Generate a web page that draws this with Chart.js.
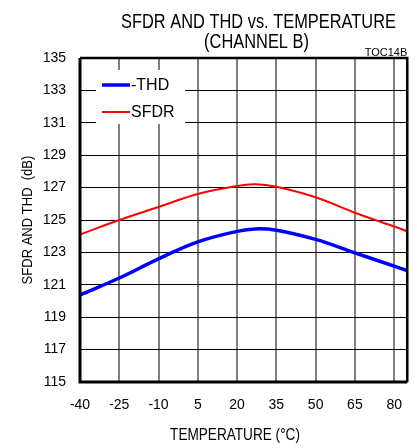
<!DOCTYPE html>
<html><head><meta charset="utf-8">
<script src="https://cdn.jsdelivr.net/npm/chart.js@4/dist/chart.umd.min.js"></script>
<style>html,body{margin:0;padding:0;background:#fff;}canvas{display:block;}</style>
</head><body>
<canvas id="c" width="417" height="448"></canvas>
<script>
const temperatures = [-40, -25, -10, 5, 20, 27, 35, 50, 65, 80, 85];
const thd  = [120.37, 121.42, 122.6, 123.65, 124.3, 124.45, 124.37, 123.8, 122.97, 122.15, 121.87];
const sfdr = [124.1, 125.0, 125.8, 126.6, 127.1, 127.2, 127.05, 126.4, 125.45, 124.6, 124.3];
const xTickValues = [-40, -25, -10, 5, 20, 35, 50, 65, 80];
const yTickValues = [115, 117, 119, 121, 123, 125, 127, 129, 131, 133, 135];
const seriesNames = ['-THD', 'SFDR'];
const seriesColors = ['#0000ff', '#ff0000'];
const titleLines = ['SFDR AND THD vs. TEMPERATURE', '(CHANNEL B)'];
const xTitle = 'TEMPERATURE (\u00B0C)';
const yTitle = 'SFDR AND THD  (dB)';
const tag = 'TOC14B';

const REG = '"Liberation Sans", Arial, sans-serif';

const toPts = (ys) => temperatures.map((t, i) => ({x: t, y: ys[i]}));

function narrowText(ctx, text, x, y, size, squeeze, rot) {
  ctx.save();
  ctx.translate(x, y);
  if (rot) ctx.rotate(rot);
  ctx.scale(squeeze, 1);
  ctx.font = size + 'px ' + REG;
  ctx.textAlign = 'center';
  ctx.textBaseline = 'alphabetic';
  ctx.fillStyle = '#000';
  ctx.fillText(text, 0, 0);
  ctx.restore();
}

const decor = {
  id: 'decor',
  afterDraw(chart) {
    const ctx = chart.ctx, a = chart.chartArea;
    ctx.save();
    // legend box
    const lx = a.left + 16, ly = a.top + 12;
    ctx.fillStyle = '#fff';
    ctx.fillRect(lx, ly, 89, 54);
    const rows = [{y: ly + 15, w: 3.5}, {y: ly + 42, w: 2}];
    ctx.font = '16px ' + REG;
    ctx.textAlign = 'left';
    ctx.textBaseline = 'middle';
    rows.forEach((r, i) => {
      ctx.strokeStyle = seriesColors[i];
      ctx.lineWidth = r.w;
      ctx.beginPath();
      ctx.moveTo(lx + 6, r.y);
      ctx.lineTo(lx + 34, r.y);
      ctx.stroke();
      ctx.fillStyle = '#000';
      ctx.fillText(seriesNames[i], lx + 35, r.y + 1);
    });
    // frame
    ctx.strokeStyle = '#000';
    ctx.lineWidth = 3;
    ctx.beginPath();
    ctx.moveTo(a.left, a.top); ctx.lineTo(a.left, a.bottom); ctx.lineTo(a.right, a.bottom);
    ctx.stroke();
    ctx.lineWidth = 2.5;
    ctx.beginPath();
    ctx.moveTo(a.left, a.top); ctx.lineTo(a.right, a.top); ctx.lineTo(a.right, a.bottom);
    ctx.stroke();
    // titles
    narrowText(ctx, titleLines[0], 258.5, 27.5, 20, 0.82, 0);
    narrowText(ctx, titleLines[1], 256.5, 48, 20, 0.82, 0);
    narrowText(ctx, xTitle, 235, 440, 17, 0.8, 0);
    narrowText(ctx, yTitle, 32, (a.top + a.bottom) / 2, 15.5, 0.84, -Math.PI / 2);
    ctx.fillStyle = '#000';
    ctx.textAlign = 'right';
    ctx.textBaseline = 'alphabetic';
    ctx.font = '11px ' + REG;
    ctx.fillText(tag, a.right, 56);
    ctx.restore();
  }
};

new Chart(document.getElementById('c'), {
  type: 'line',
  data: {
    datasets: [
      {label: seriesNames[0], data: toPts(thd), borderColor: seriesColors[0], borderWidth: 3.5, pointRadius: 0, tension: 0.4, fill: false},
      {label: seriesNames[1], data: toPts(sfdr), borderColor: seriesColors[1], borderWidth: 2, pointRadius: 0, tension: 0.4, fill: false}
    ]
  },
  options: {
    responsive: false,
    animation: false,
    devicePixelRatio: 1,
    layout: {padding: {left: 0, right: 1, top: 58, bottom: 0}},
    plugins: {legend: {display: false}, title: {display: false}, tooltip: {enabled: false}},
    scales: {
      x: {
        type: 'linear', min: -40, max: 85,
        afterBuildTicks: (s) => { s.ticks = xTickValues.map(v => ({value: v})); },
        afterFit: (s) => { s.height = 66; },
        grid: {color: '#808080', lineWidth: 2, drawTicks: false},
        border: {display: false},
        ticks: {color: '#000', font: {family: REG, size: 14}, padding: 15, maxRotation: 0, autoSkip: false}
      },
      y: {
        type: 'linear', min: 115, max: 135,
        afterBuildTicks: (s) => { s.ticks = yTickValues.map(v => ({value: v})); },
        afterFit: (s) => { s.width = 80; },
        grid: {color: '#000', lineWidth: 1, drawTicks: false},
        border: {display: false},
        ticks: {color: '#000', font: {family: REG, size: 14}, padding: 14, autoSkip: false}
      }
    }
  },
  plugins: [decor]
});
</script>
</body></html>
